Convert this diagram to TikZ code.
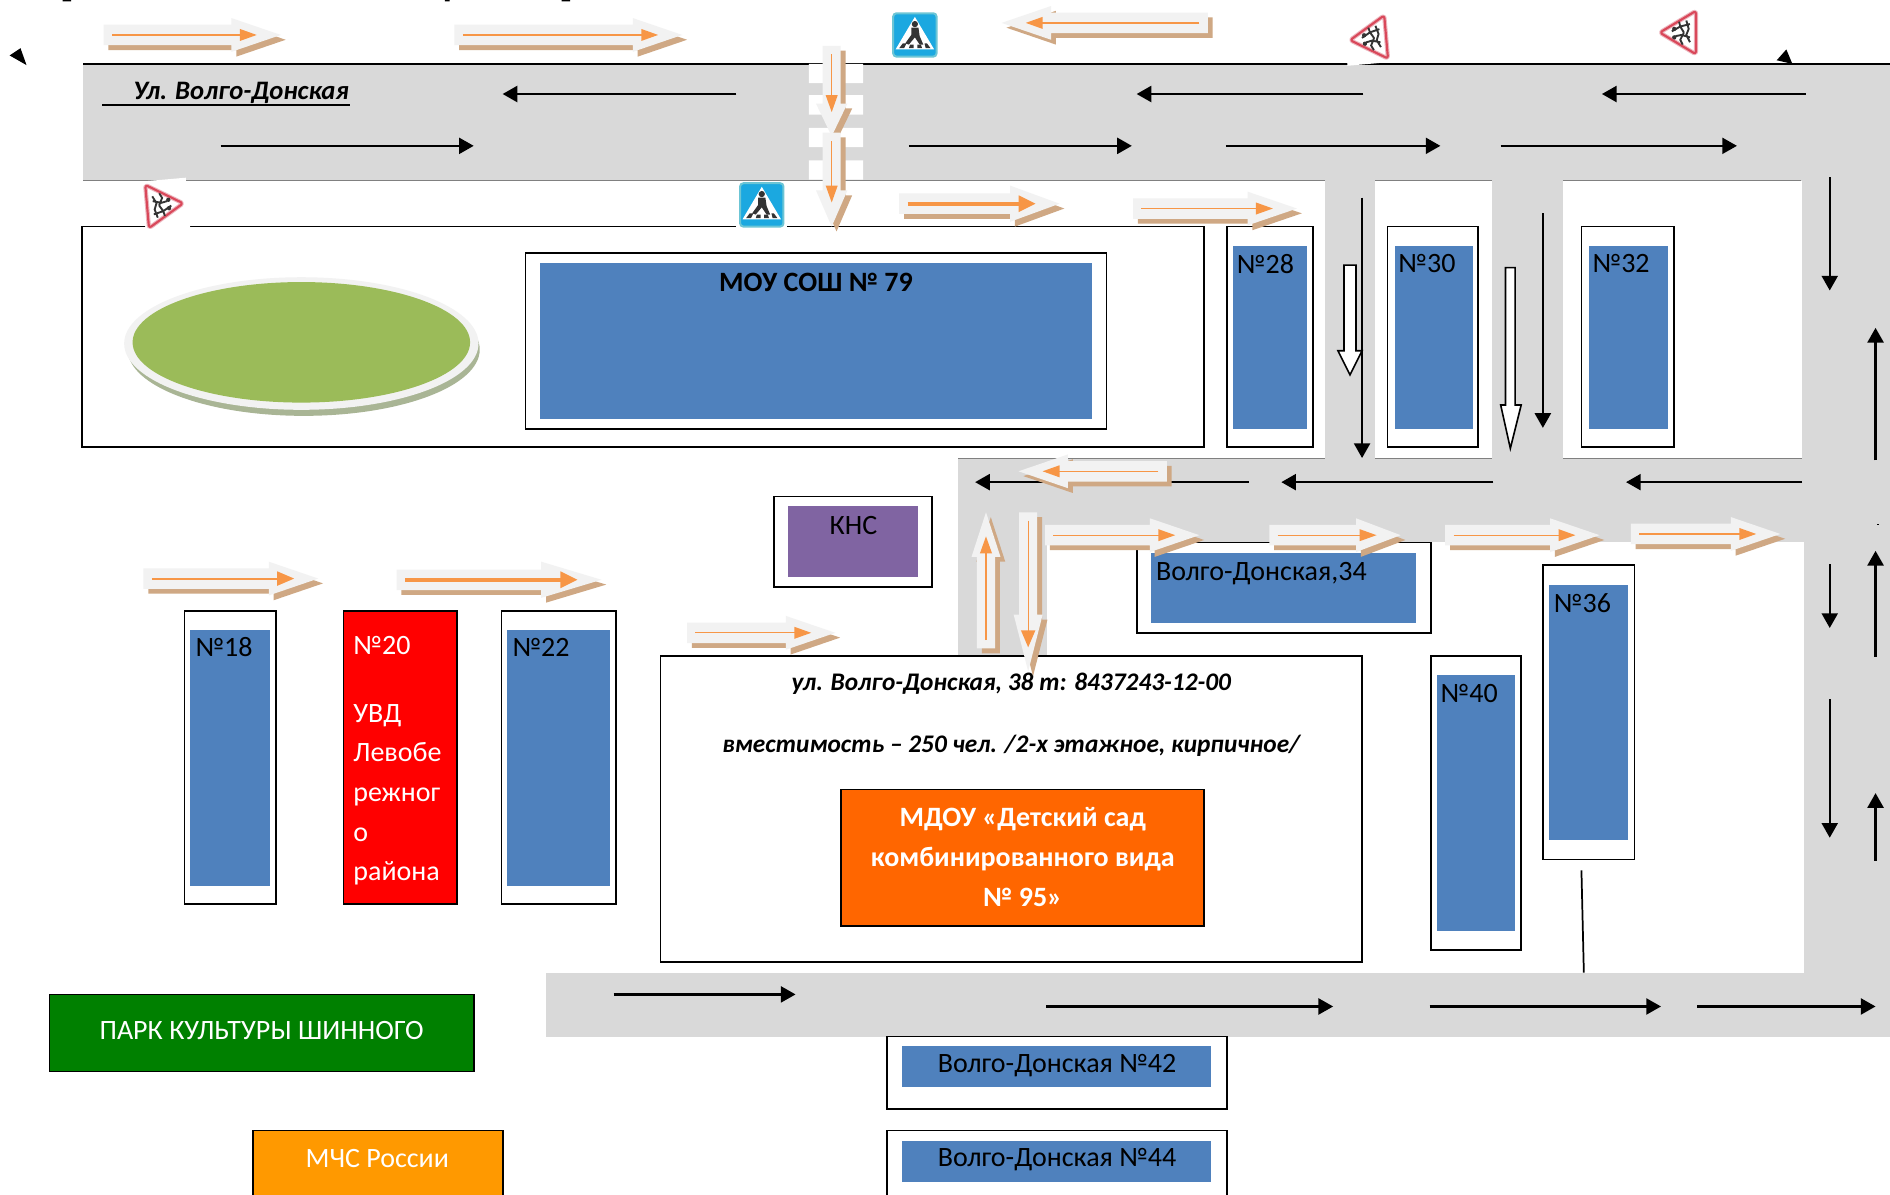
\documentclass[tikz,border=0pt]{standalone}
\usepackage{fontspec}
\setmainfont{Carlito}
\usetikzlibrary{arrows.meta}
\definecolor{road}{HTML}{D9D9D9}
\definecolor{blockblue}{HTML}{4F81BD}
\definecolor{kns}{HTML}{8064A2}
\definecolor{lawn}{HTML}{9BBB59}
\definecolor{lawnshadow}{HTML}{A9B595}
\definecolor{fatbody}{HTML}{F2F2F2}
\definecolor{fatshadow}{HTML}{CFA884}
\definecolor{fatline}{HTML}{F79646}
\definecolor{signblue}{HTML}{1BA8E0}
\definecolor{signedge}{HTML}{6CC5D5}
\definecolor{signred}{HTML}{D9485A}
\definecolor{signpale}{HTML}{EDB6BE}
\definecolor{signdark}{HTML}{333333}
\definecolor{kgorange}{HTML}{FF6600}
\definecolor{parkgreen}{HTML}{008000}
\definecolor{mchsorange}{HTML}{FF9900}
\tikzset{
  roadfill/.style={fill=road,draw=none},
  yard/.style={draw=black,line width=1.3pt,fill=white},
  block/.style={fill=blockblue,draw=none},
  traffic/.style={line width=1.7pt,-{Triangle[length=11pt,width=12pt]}},
  hollow/.style={draw=black,line width=1.2pt,fill=white},
  txt/.style={font=\fontsize{21}{24}\selectfont,inner sep=0pt},
  txtw/.style={txt,text=white},
  slabel/.style={font=\fontsize{19}{24}\selectfont\bfseries\itshape,inner sep=0pt}
}
% x y len angle headlen bodyhalf headhalf orangewidth orangehead
\newcommand{\fatarr}[9]{%
  \begin{scope}[shift={(#1+4,#2+4)},rotate=#4]
    \fill[fatshadow] (0,-#6)--(#3-#5,-#6)--(#3-#5,-#7)--(#3,0)--(#3-#5,#7)--(#3-#5,#6)--(0,#6)--cycle;
  \end{scope}
  \begin{scope}[shift={(#1,#2)},rotate=#4]
    \fill[fatbody] (0,-#6)--(#3-#5,-#6)--(#3-#5,-#7)--(#3,0)--(#3-#5,#7)--(#3-#5,#6)--(0,#6)--cycle;
    \draw[fatline,line width=#8pt] (7,0)--(#3-30,0);
    \fill[fatline] (#3-34,-#9)--(#3-20,0)--(#3-34,#9)--cycle;
  \end{scope}}
% sign: pedestrian crossing
\newcommand{\pedsign}[2]{%
  \begin{scope}[shift={(#1,#2)}]
    \fill[white] (-21,-20) rectangle (21,20);
    \fill[signblue,draw=signedge,line width=1.5pt,rounded corners=2.5pt] (-18,-18) rectangle (18,18);
    \fill[white] (0,-15)--(16,12)--(-16,12)--cycle;
    \fill[signdark] (0,-9) circle (2.6);
    \fill[signdark] (-3,-6)--(3,-6)--(4,1)--(7,8)--(4,8)--(0,2)--(-5,8)--(-8,7)--(-3,0)--cycle;
    \fill[signdark] (-13,11)--(-10,7)--(-7,7)--(-9,11)--cycle (-5,11)--(-4,8)--(-1,8)--(-1,11)--cycle (2,11)--(2,8)--(5,8)--(6,11)--cycle (9,11)--(8,7)--(10,7)--(13,11)--cycle;
  \end{scope}}
% sign: children
\newcommand{\kidsign}[3]{%
  \begin{scope}[shift={(#1,#2)},rotate=#3]
    \fill[white] (-19,-20) rectangle (18,21);
    \fill[white,draw=signpale,line width=3.2pt,rounded corners=2pt,line join=round] (-15,0)--(15,-18)--(15,18)--cycle;
    \draw[signred,line width=1.6pt,rounded corners=2pt,line join=round] (-15,0)--(15,-18)--(15,18)--cycle;
    \draw[signdark,line width=1.4pt] (-5,-1)--(2,-5)--(10,-7) (-2,3)--(3,2)--(10,4) (1,-9)--(2,-5)--(5,0) (5,0)--(2,6)--(4,10) (7,-10)--(9,-3)--(7,2)--(10,8);
    \fill[signdark] (-3,-3) circle (1.8) (-3,4) circle (1.8);
  \end{scope}}
\begin{document}
\begin{tikzpicture}[x=0.904pt,y=-0.904pt]
\useasboundingbox (0,0) rectangle (1568,991.4);
\fill[white] (0,0) rectangle (1568,991.4);
% clipped fragments at the top edge
\fill[black] (52,0) rectangle (59,1.2) (369,0) rectangle (373,1.2) (466,0) rectangle (473,1.2);
% roads
\fill[roadfill] (69,53) rectangle (1568,150);
\fill[roadfill] (1495,53) rectangle (1568,860);
\fill[roadfill] (453,807) rectangle (1568,860);
\fill[roadfill] (795,380) rectangle (1495,450);
\fill[roadfill] (795,380) rectangle (869,544);
\fill[roadfill] (1099,150) rectangle (1141,380);
\fill[roadfill] (1238,150) rectangle (1297,380);
\fill[white] (1495,450) rectangle (1497,807);
\fill[black] (1557,434.6) rectangle (1559,435.4);
\draw[black,line width=1pt] (69,53)--(1568,53);
\draw[gray,line width=.6pt] (69,150)--(1099,150) (1141,150)--(1238,150) (1297,150)--(1494,150);
\draw[gray,line width=.6pt] (795,380)--(1099,380) (1141,380)--(1238,380) (1297,380)--(1495,380);
% crosswalk
\fill[white] (671,53) rectangle (716,69) (671,79) rectangle (716,95) (671,106) rectangle (716,122) (671,133) rectangle (716,149);
% yards and blocks
\draw[yard] (68,188) rectangle (999,371);
\draw[yard] (436,210) rectangle (918,356);
\fill[block] (448,218) rectangle (906,348);
\node[txt,font=\fontsize{21}{24}\selectfont\bfseries] (school) at (677,234) {МОУ СОШ № 79};
% lawn
\fill[lawnshadow] (252,290) ellipse (146 and 55);
\fill[fatbody] (250,285) ellipse (147 and 55);
\fill[lawn] (250,284) ellipse (140 and 50);
\draw[yard] (1018,188) rectangle (1089,371);
\fill[block] (1023,204) rectangle (1084,356);
\node[txt,anchor=west] (n28) at (1026,219) {№28};
\draw[yard] (1151,188) rectangle (1226,371);
\fill[block] (1157,204) rectangle (1222,356);
\node[txt,anchor=west] (n30) at (1160,219) {№30};
\draw[yard] (1312,188) rectangle (1389,371);
\fill[block] (1318,204) rectangle (1384,356);
\node[txt,anchor=west] (n32) at (1321,219) {№32};
\draw[yard] (642,412) rectangle (773,487);
\fill[kns] (654,420) rectangle (762,479);
\node[txt] (knslabel) at (708,436) {КНС};
\draw[yard] (943,450) rectangle (1187,525);
\fill[block] (955,459) rectangle (1175,517);
\node[txt,anchor=west] (n34) at (959,476) {Волго-Донская,34};
\draw[black,line width=1.3pt] (1312,722)--(1314,807);
\draw[yard] (1280,469) rectangle (1356,713);
\fill[block] (1285,485) rectangle (1351,697);
\node[txt,anchor=west] (n36) at (1289,500) {№36};
\draw[yard] (1187,544) rectangle (1262,788);
\fill[block] (1192,560) rectangle (1257,772);
\node[txt,anchor=west] (n40) at (1195,575) {№40};
\draw[yard] (153,507) rectangle (229,750);
\fill[block] (158,523) rectangle (224,735);
\node[txt,anchor=west] (n18) at (162,537) {№18};
\draw[black,line width=1.3pt,fill=red] (285,507) rectangle (379,750);
\node[txtw,anchor=north west,align=left,font=\fontsize{21}{29.8}\selectfont] (n20) at (293,527.5) {№20\\[21pt]УВД\\Левобе\\режног\\о\\района};
\draw[yard] (416,507) rectangle (511,750);
\fill[block] (421,523) rectangle (506,735);
\node[txt,anchor=west] (n22) at (425,537) {№22};
\draw[yard] (548,544) rectangle (1130,798);
\node[slabel] (addr) at (839,567) {ул. Волго-Донская, 38 т: 8437243-12-00};
\node[slabel] (cap) at (839,619) {вместимость – 250 чел. /2-х этажное, кирпичное/};
\draw[black,line width=1.3pt,fill=kgorange] (698,655) rectangle (999,768);
\node[txtw,align=center,font=\fontsize{21}{29.8}\selectfont\bfseries] (kg) at (848.5,711) {МДОУ «Детский сад\\комбинированного вида\\№ 95»};
\draw[black,line width=1.3pt,fill=parkgreen] (41,825) rectangle (393,889);
\node[txtw] (park) at (217,855) {ПАРК КУЛЬТУРЫ ШИННОГО};
\draw[black,line width=1.3pt,fill=mchsorange] (210,938) rectangle (417,995);
\node[txtw] (mchs) at (313,961) {МЧС России};
\draw[yard] (736,860) rectangle (1018,920);
\fill[block] (748,868) rectangle (1005,902);
\node[txt] (n42) at (877,884) {Волго-Донская №42};
\draw[yard] (736,938) rectangle (1018,995);
\fill[block] (748,947) rectangle (1005,981);
\node[txt] (n44) at (877,962) {Волго-Донская №44};
% street name
\node[txt,font=\fontsize{20}{24}\selectfont\bfseries\itshape] (street) at (200,77) {Ул. Волго-Донская};
\draw[black,line width=1.3pt] (85,87)--(290,87);
% traffic arrows
\draw[traffic] (611,78)--(417,78);
\draw[traffic] (1131,78)--(943,78);
\draw[traffic] (1498,78)--(1329,78);
\draw[traffic] (183,121)--(393,121);
\draw[traffic] (754,121)--(939,121);
\draw[traffic] (1017,121)--(1195,121);
\draw[traffic] (1245,121)--(1441,121);
\draw[traffic] (1518,147)--(1518,241);
\draw[traffic] (1130,164)--(1130,380);
\draw[traffic] (1280,177)--(1280,355);
\draw[traffic] (1556,382)--(1556,272);
\draw[traffic] (1556,545)--(1556,457);
\draw[traffic] (1556,714)--(1556,658);
\draw[traffic] (1518,468)--(1518,521);
\draw[traffic] (1518,580)--(1518,695);
\draw[traffic] (1036,400)--(809,400);
\draw[traffic] (1239,400)--(1063,400);
\draw[traffic] (1495,400)--(1349,400);
\draw[traffic] (509,825)--(660,825);
\draw[traffic] (868,835)--(1106,835);
\draw[traffic] (1186,835)--(1378,835);
\draw[traffic] (1408,835)--(1556,835);
% hollow arrows
\draw[hollow] (1115,220)--(1125,220)--(1125,291)--(1130,291)--(1120,311)--(1110,291)--(1115,291)--cycle;
\draw[hollow] (1249,222)--(1257,222)--(1257,336)--(1262,336)--(1253,372)--(1245,336)--(1249,336)--cycle;
% pedestrian route arrows
\fatarr{86}{29}{147}{0}{41}{8.5}{14}{1}{5}
\fatarr{377}{29}{189}{0}{41}{8.5}{14}{1}{5}
\fatarr{746}{169}{133}{0}{41}{8.5}{15}{3}{7}
\fatarr{940}{173}{136}{0}{41}{8.5}{14}{1}{5}
\fatarr{867}{444}{128}{0}{41}{8.5}{14}{1}{5}
\fatarr{1053}{444}{109}{0}{37}{8.5}{14}{1}{5}
\fatarr{1199}{444}{128}{0}{41}{8.5}{14}{1}{5}
\fatarr{1353}{443}{124}{0}{41}{8.5}{14}{1}{5}
\fatarr{119}{480}{145}{0}{41}{8.5}{14}{1.5}{6}
\fatarr{329}{481}{170}{0}{50}{8.5}{15}{3}{7}
\fatarr{570}{525}{123}{0}{41}{8.5}{14}{1}{5}
\fatarr{1002}{19}{171}{180}{41}{8.5}{14}{1}{5}
\fatarr{968}{391}{123}{180}{41}{8.5}{14}{1}{5}
\fatarr{690}{38}{75}{-90}{27}{7.5}{13}{1}{5}
\fatarr{690}{110}{78}{-90}{30}{7.5}{13}{1}{5}
\fatarr{853}{425}{132}{-90}{47}{7.5}{12}{1}{6}
\fatarr{818}{538}{113}{90}{37}{7.5}{12}{1}{5}
% signs
\pedsign{759}{29}
\pedsign{632}{170}
\kidsign{1135}{32}{5}
\kidsign{1392}{27}{0}
\kidsign{137}{170}{185}
% small black triangles
\fill[black] (8,46)--(17,40)--(22,54)--cycle;
\fill[black] (1474,50)--(1482,41)--(1487,53)--cycle;
\end{tikzpicture}
\end{document}
